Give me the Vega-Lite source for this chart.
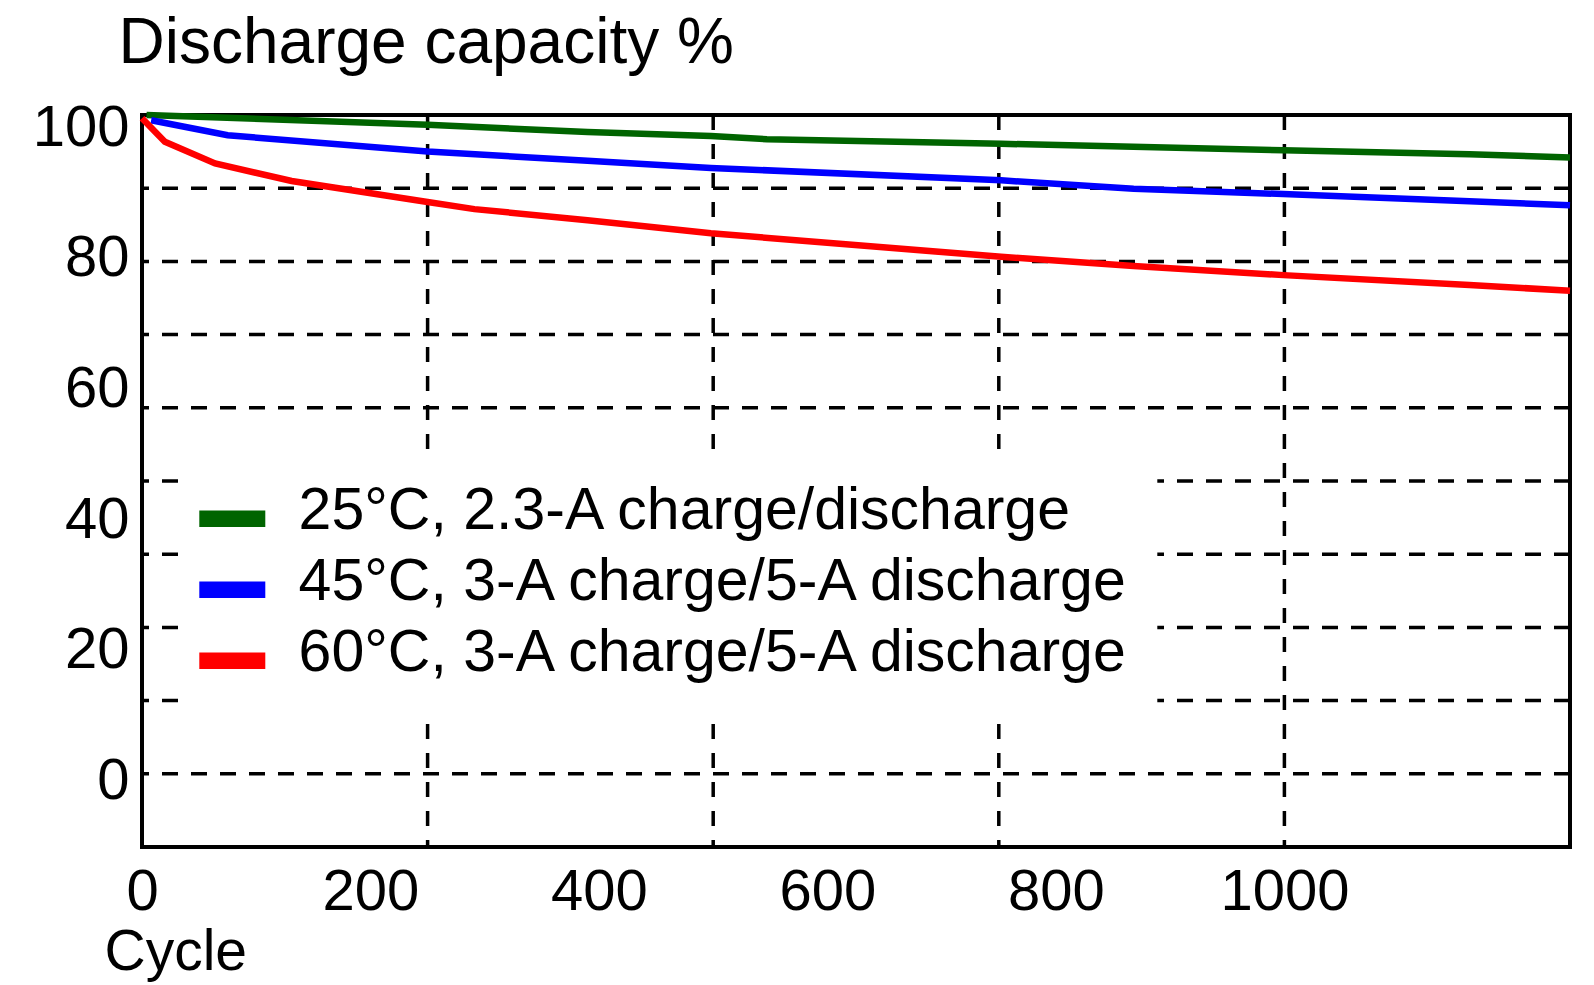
{
  "$schema": "https://vega.github.io/schema/vega-lite/v6.json",
  "width": 1428,
  "height": 732,
  "autosize": {"type": "none"},
  "padding": {"left": 142, "top": 115, "right": 24, "bottom": 138},
  "background": "white",
  "config": {
    "view": {"stroke": "black", "strokeWidth": 4},
    "font": "Liberation Sans"
  },
  "datasets": {
    "hgrid": [{"level": 10}, {"level": 20}, {"level": 30}, {"level": 40}, {"level": 50}, {"level": 60}, {"level": 70}, {"level": 80}, {"level": 90}],
    "vgrid": [{"cycle": 250}, {"cycle": 500}, {"cycle": 750}, {"cycle": 1000}],
    "capacity": [
      {"condition": "25°C, 2.3-A charge/discharge", "cycle": 4, "capacity": 102.0},
      {"condition": "25°C, 2.3-A charge/discharge", "cycle": 250, "capacity": 100.5},
      {"condition": "25°C, 2.3-A charge/discharge", "cycle": 390, "capacity": 99.4},
      {"condition": "25°C, 2.3-A charge/discharge", "cycle": 498, "capacity": 98.8},
      {"condition": "25°C, 2.3-A charge/discharge", "cycle": 547, "capacity": 98.3},
      {"condition": "25°C, 2.3-A charge/discharge", "cycle": 752, "capacity": 97.6},
      {"condition": "25°C, 2.3-A charge/discharge", "cycle": 999, "capacity": 96.6},
      {"condition": "25°C, 2.3-A charge/discharge", "cycle": 1162, "capacity": 96.0},
      {"condition": "25°C, 2.3-A charge/discharge", "cycle": 1250, "capacity": 95.5},
      {"condition": "45°C, 3-A charge/5-A discharge", "cycle": 8, "capacity": 101.2},
      {"condition": "45°C, 3-A charge/5-A discharge", "cycle": 75, "capacity": 98.9},
      {"condition": "45°C, 3-A charge/5-A discharge", "cycle": 250, "capacity": 96.4},
      {"condition": "45°C, 3-A charge/5-A discharge", "cycle": 390, "capacity": 95.0},
      {"condition": "45°C, 3-A charge/5-A discharge", "cycle": 498, "capacity": 93.9},
      {"condition": "45°C, 3-A charge/5-A discharge", "cycle": 752, "capacity": 92.0},
      {"condition": "45°C, 3-A charge/5-A discharge", "cycle": 868, "capacity": 90.7},
      {"condition": "45°C, 3-A charge/5-A discharge", "cycle": 999, "capacity": 89.9},
      {"condition": "45°C, 3-A charge/5-A discharge", "cycle": 1162, "capacity": 88.8},
      {"condition": "45°C, 3-A charge/5-A discharge", "cycle": 1250, "capacity": 88.2},
      {"condition": "60°C, 3-A charge/5-A discharge", "cycle": 0, "capacity": 101.5},
      {"condition": "60°C, 3-A charge/5-A discharge", "cycle": 20, "capacity": 97.9},
      {"condition": "60°C, 3-A charge/5-A discharge", "cycle": 64, "capacity": 94.6},
      {"condition": "60°C, 3-A charge/5-A discharge", "cycle": 131, "capacity": 91.9},
      {"condition": "60°C, 3-A charge/5-A discharge", "cycle": 250, "capacity": 88.7},
      {"condition": "60°C, 3-A charge/5-A discharge", "cycle": 291, "capacity": 87.6},
      {"condition": "60°C, 3-A charge/5-A discharge", "cycle": 390, "capacity": 85.9},
      {"condition": "60°C, 3-A charge/5-A discharge", "cycle": 498, "capacity": 83.9},
      {"condition": "60°C, 3-A charge/5-A discharge", "cycle": 752, "capacity": 80.3},
      {"condition": "60°C, 3-A charge/5-A discharge", "cycle": 868, "capacity": 78.9},
      {"condition": "60°C, 3-A charge/5-A discharge", "cycle": 999, "capacity": 77.5},
      {"condition": "60°C, 3-A charge/5-A discharge", "cycle": 1162, "capacity": 76.0},
      {"condition": "60°C, 3-A charge/5-A discharge", "cycle": 1250, "capacity": 75.1}
    ]
  },
  "layer": [
    {
      "data": {"name": "hgrid"},
      "mark": {"type": "rule", "color": "black", "strokeWidth": 3.5, "strokeDash": [16, 13]},
      "encoding": {
        "y": {"field": "level", "type": "quantitative", "scale": {"domain": [0, 100], "nice": false, "zero": false}, "axis": null}
      }
    },
    {
      "data": {"name": "vgrid"},
      "mark": {"type": "rule", "color": "black", "strokeWidth": 3.5, "strokeDash": [15, 14]},
      "encoding": {
        "x": {
          "field": "cycle", "type": "quantitative",
          "scale": {"domain": [0, 1250], "nice": false},
          "axis": {
            "values": [0, 200, 400, 600, 800, 1000], "format": "d",
            "title": "Cycle", "grid": false, "ticks": false, "domain": false,
            "labelFontSize": 58, "labelColor": "black", "labelPadding": 16,
            "labelFlush": false, "labelOverlap": false,
            "titleFontSize": 57, "titleFontWeight": "normal", "titleColor": "black",
            "titleAlign": "left", "titleBaseline": "alphabetic", "titleX": -38, "titleY": 122
          }
        }
      }
    },
    {
      "data": {"name": "capacity"},
      "mark": {"type": "line", "strokeWidth": 6.5},
      "encoding": {
        "x": {
          "field": "cycle", "type": "quantitative",
          "scale": {"domain": [0, 1250], "nice": false},
          "axis": {
            "values": [0, 200, 400, 600, 800, 1000], "format": "d",
            "title": "Cycle", "grid": false, "ticks": false, "domain": false,
            "labelFontSize": 58, "labelColor": "black", "labelPadding": 16,
            "labelFlush": false, "labelOverlap": false,
            "titleFontSize": 57, "titleFontWeight": "normal", "titleColor": "black",
            "titleAlign": "left", "titleBaseline": "alphabetic", "titleX": -38, "titleY": 122
          }
        },
        "y": {
          "field": "capacity", "type": "quantitative",
          "scale": {"domain": [-10, 102], "nice": false, "zero": false},
          "axis": {
            "values": [0, 20, 40, 60, 80, 100], "format": "d",
            "title": "Discharge capacity %", "grid": false, "ticks": false, "domain": false,
            "labelFontSize": 58, "labelColor": "black", "labelPadding": 13,
            "labelOverlap": false,
            "titleFontSize": 64, "titleFontWeight": "normal", "titleColor": "black",
            "titleAngle": 0, "titleAlign": "left", "titleBaseline": "alphabetic",
            "titleX": -24, "titleY": -53
          }
        },
        "color": {
          "field": "condition", "type": "nominal",
          "scale": {
            "domain": ["25°C, 2.3-A charge/discharge", "45°C, 3-A charge/5-A discharge", "60°C, 3-A charge/5-A discharge"],
            "range": ["#006400", "#0000ff", "#ff0000"]
          },
          "legend": {
            "title": null, "orient": "none", "legendX": 36.3, "legendY": 342,
            "fillColor": "white", "padding": 24.5,
            "labelFontSize": 59, "labelColor": "black", "labelFont": "Liberation Sans",
            "labelLimit": 2000, "labelOffset": 36.8, "rowPadding": 0,
            "symbolType": "M-2,0.47H2", "symbolSize": 1089, "symbolStrokeWidth": 16.5, "symbolOpacity": 1
          }
        }
      }
    }
  ],
  "resolve": {"scale": {"y": "independent"}}
}
